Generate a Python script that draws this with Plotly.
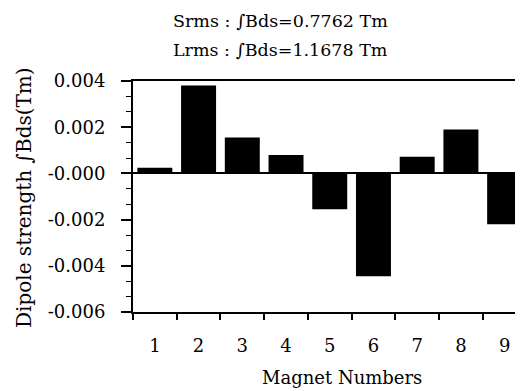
import plotly.graph_objects as go

# ---- data ----
magnets = ["1", "2", "3", "4", "5", "6", "7", "8", "9"]
strength = [0.00025, 0.0038, 0.00155, 0.0008, -0.00155, -0.00445, 0.00072, 0.0019, -0.0022]
y_tickvals = [0.004, 0.002, 0.0, -0.002, -0.004, -0.006]
y_ticktext = ["0.004", "0.002", "-0.000", "-0.002", "-0.004", "-0.006"]
title_lines = ["Srms : \u222bBds=0.7762 Tm", "Lrms : \u222bBds=1.1678 Tm"]
x_title = "Magnet Numbers"
y_title = "Dipole strength \u222bBds(Tm)"

FONT = "DejaVu Serif"
OFF = 8  # page body margin in the browser
W, H = 523 - OFF, 391 - OFF
ML, MR, MT = 133 - OFF, 0, 81 - OFF
PH = 231
MB = H - MT - PH
PW = W - ML - MR


def px_x(px):
    return (px - OFF - ML) / PW


def px_y(py):
    return (H - MB - (py - OFF)) / PH


fig = go.Figure(
    go.Bar(
        x=magnets,
        y=strength,
        marker=dict(color="black", line=dict(width=0)),
    )
)

fig.update_layout(
    width=W,
    height=H,
    margin=dict(l=ML, r=MR, t=MT, b=MB, pad=0),
    paper_bgcolor="white",
    plot_bgcolor="white",
    bargap=0.2,
    showlegend=False,
    font=dict(family=FONT, color="black"),
)

fig.update_xaxes(
    type="category",
    range=[-0.5, 8.42],
    tickson="boundaries",
    ticks="outside",
    ticklen=6,
    tickwidth=1.5,
    tickcolor="black",
    showline=True,
    linewidth=2,
    linecolor="black",
    mirror=True,
    showgrid=False,
    tickfont=dict(size=18, family=FONT, color="black"),
    ticklabelstandoff=16,
)

fig.update_yaxes(
    range=[-0.006, 0.004],
    tickmode="array",
    tickvals=y_tickvals,
    ticktext=y_ticktext,
    ticks="outside",
    ticklen=10,
    tickwidth=1.5,
    tickcolor="black",
    minor=dict(tick0=-0.006, dtick=0.002 / 3, ticks="outside", ticklen=5,
               tickwidth=1.2, tickcolor="black", showgrid=False),
    showline=True,
    linewidth=2,
    linecolor="black",
    showgrid=False,
    zeroline=True,
    zerolinecolor="black",
    zerolinewidth=1.5,
    tickfont=dict(size=18, family=FONT, color="black"),
    ticklabelstandoff=12,
)

annotations = [
    dict(text=title_lines[0], x=px_x(280), y=px_y(21), xref="paper", yref="paper",
         xanchor="center", yanchor="middle", showarrow=False,
         font=dict(size=17.5, family=FONT, color="black")),
    dict(text=title_lines[1], x=px_x(280), y=px_y(50), xref="paper", yref="paper",
         xanchor="center", yanchor="middle", showarrow=False,
         font=dict(size=17.5, family=FONT, color="black")),
    dict(text=x_title, x=px_x(342), y=px_y(378), xref="paper", yref="paper",
         xanchor="center", yanchor="middle", showarrow=False,
         font=dict(size=18, family=FONT, color="black")),
    dict(text=y_title, x=px_x(24), y=px_y(198), xref="paper", yref="paper",
         xanchor="center", yanchor="middle", showarrow=False, textangle=-90,
         font=dict(size=20, family=FONT, color="black")),
]
fig.update_layout(annotations=annotations)

fig.write_html("out.html")
